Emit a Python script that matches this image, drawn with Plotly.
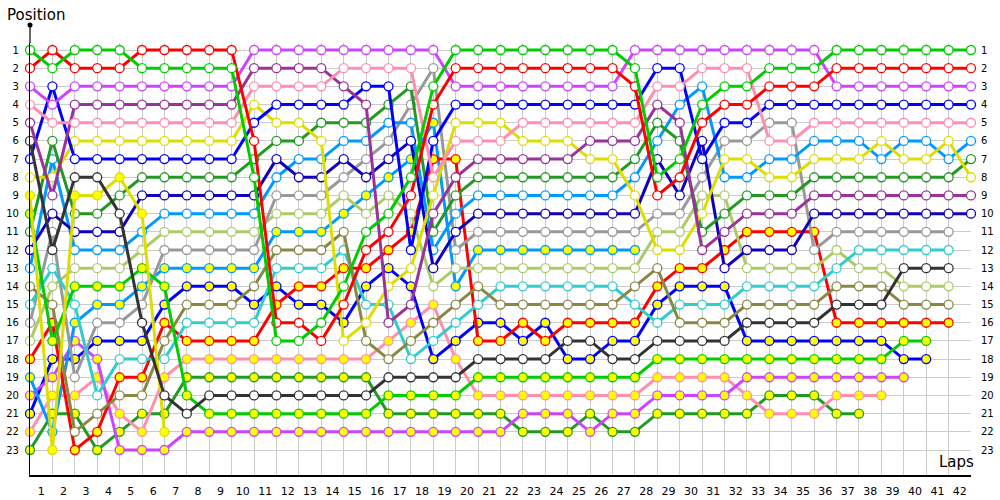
import plotly.graph_objects as go

# ---------------- data ----------------
lap_labels = [str(i) for i in range(1, 43)]
position_labels = [str(i) for i in range(1, 24)]

# running position of every driver at the end of each lap (index 0 = grid)
GW = [1,2,1,1,1,2,2,2,2,2, 8,17,17,16,14,11,10,8,3,1, 1,1,1,1,1,1,1,2,8,7, 4,3,3,2,2,2,1,1,1,1, 1,1,1]
RW = [2,1,2,2,2,1,1,1,1,1, 6,16,16,17,15,12,11,9,4,2, 2,2,2,2,2,2,2,3,9,8, 5,4,4,3,3,3,2,2,2,2, 2,2,2]
PW = [3,4,3,3,3,3,3,3,3,3, 1,1,1,1,1,1,1,1,1,3, 3,3,3,3,3,3,3,1,1,1, 1,1,1,1,1,1,3,3,3,3, 3,3,3]
KW = [4,5,5,5,5,5,5,5,5,5, 3,3,3,3,2,2,2,2,8,6, 6,6,5,5,5,5,5,5,3,3, 2,2,2,6,6,5,5,5,5,5, 5,5,5]
DP = [5,9,4,4,4,4,4,4,4,4, 2,2,2,2,3,4,16,15,10,8, 7,7,7,7,7,6,6,6,4,5, 12,11,10,10,10,9,9,9,9,9, 9,9,9]
DG = [6,12,8,8,10,16,20,21,20,20, 20,20,20,20,20,20,19,19,19,19, 18,18,18,18,17,17,18,18,17,17, 17,17,16,16,16,16,15,15,15,13, 13,13]
BW = [7,3,7,7,7,7,7,7,7,7, 5,4,4,4,4,3,3,12,6,4, 4,4,4,4,4,4,4,4,2,2, 7,5,5,4,4,4,4,4,4,4, 4,4,4]
YW = [8,8,6,6,6,6,6,6,6,6, 4,5,5,6,17,16,14,13,9,5, 5,5,6,6,6,7,7,9,12,12, 10,7,7,8,8,7,7,7,6,7, 7,6,8]
YY = [9,23,9,9,8,10,22]
GY = [10,17,14,14,14,13,14,20,21,21, 21,21,21,21,21,21,20,20,20,20, 19,19,19,19,19,19,19,19,18,18, 18,18,18,18,18,18,18,18,18,17, 17]
NW = [11,6,10,10,9,8,8,8,8,8, 7,6,6,5,5,5,4,3,11,9, 8,8,8,8,8,8,8,7,5,6, 11,10,9,9,9,8,8,8,8,8, 8,8,7]
DB = [12,10,11,11,11,9,9,9,9,9, 9,7,8,8,7,8,7,6,13,11, 10,10,10,10,10,10,10,10,7,9, 6,13,12,12,12,10,10,10,10,10, 10,10,10]
LW = [13,7,12,12,12,11,10,10,10,10, 10,8,7,7,6,6,5,5,12,10, 9,9,9,9,9,9,9,8,6,4, 3,8,8,7,7,6,6,6,7,6, 6,7,6]
OL = [14,15,22,21,20,20,17,15,15,15, 14,12,12,12,11,17,18,17,16,15, 14,15,15,15,15,15,15,14,13,16, 16,16,15,15,15,15,14,14,14,15, 15,15]
CY = [15,13,15,20,18,18,18,16,16,16, 16,13,13,13,12,15,15,18,17,16, 15,14,14,14,14,14,14,15,16,15, 15,15,14,14,14,14,13,12,12,12, 12,12]
GR = [16,11,19,16,16,15,12,12,12,12, 12,9,9,9,8,7,6,4,2,12, 11,11,11,11,11,11,11,11,10,10, 8,6,6,5,5,12,11,11,11,11, 11,11]
LO = [17,14,13,13,13,12,11,11,11,11, 11,10,10,10,9,10,9,10,14,13, 13,13,13,13,13,13,13,13,11,11, 9,9,13,13,13,13,12,13,13,14, 14,14]
RY = [18,16,23,22,19,19,16,17,17,17, 17,15,14,14,13,13,12,11,7,7, 17,17,16,17,16,16,16,16,14,13, 13,12,11,11,11,11,16,16,16,16, 16,16]
LY = [19,22,16,15,15,14,13,13,13,13, 13,11,11,11,10,9,8,7,5,14, 12,12,12,12,12,12,12,12]
PY = [20,19,17,18,23,23,23,22,22,22, 22,22,22,22,22,22,22,22,22,22, 22,22,21,21,21,22,21,21,20,20, 20,20,19,19,19,19,19,19,19,19]
BY = [21,18,18,17,17,17,15,14,14,14, 15,14,15,15,16,14,13,14,18,17, 16,16,17,16,18,18,17,17,15,14, 14,14,17,17,17,17,17,17,17,18, 18]
KY = [22,20,20,19,21,22,19,18,18,18, 18,18,18,18,18,18,17,16,15,18, 20,20,20,20,20,20,20,20,19,19, 19,19,20,21,21,21,20,20,20]
NY = [23,21,21,23,22,21,21,19,19,19, 19,19,19,19,19,19,21,21,21,21, 21,21,22,22,22,21,22,22,21,21, 21,21,21,20,20,20,21,21]

# team colours and marker fills
GREEN, RED, PURPLE, PINK = "#00cc00", "#ff0000", "#cc44ff", "#ff8faf"
DKPURPLE, DKGRAY, BLUE, YELLOW = "#993399", "#333333", "#0000ff", "#dddd00"
DKGREEN, DKBLUE, LTBLUE, OLIVE = "#229922", "#1100bb", "#0099ff", "#888844"
CYAN, GRAY, LTOLIVE = "#33cccc", "#999999", "#aacc66"
WHITE, YFILL = "#ffffff", "#ffff00"

series = [
    (GW, GREEN, WHITE), (RW, RED, WHITE), (PW, PURPLE, WHITE), (KW, PINK, WHITE),
    (DP, DKPURPLE, WHITE), (DG, DKGRAY, WHITE), (BW, BLUE, WHITE), (YW, YELLOW, WHITE),
    (YY, YELLOW, YFILL), (GY, GREEN, YFILL), (NW, DKGREEN, WHITE), (DB, DKBLUE, WHITE),
    (LW, LTBLUE, WHITE), (OL, OLIVE, WHITE), (CY, CYAN, WHITE), (GR, GRAY, WHITE),
    (LO, LTOLIVE, WHITE), (RY, RED, YFILL), (LY, LTBLUE, YFILL), (PY, PURPLE, YFILL),
    (BY, BLUE, YFILL), (KY, PINK, YFILL), (NY, DKGREEN, YFILL),
]

# ---------------- figure ----------------
fig = go.Figure()
for pos, col, fill in reversed(series):
    fig.add_trace(go.Scatter(
        x=list(range(len(pos))), y=pos, mode="lines+markers",
        line=dict(color=col, width=3),
        marker=dict(size=9, color=fill, line=dict(color=col, width=1.3)),
        showlegend=False, hoverinfo="skip", cliponaxis=False,
    ))
# invisible trace for the right-hand position axis
fig.add_trace(go.Scatter(x=[0], y=[1], yaxis="y2", mode="markers",
                         marker=dict(opacity=0), showlegend=False, hoverinfo="skip"))

W, H = 1000, 500
ML, MR, MT, MB = 30, 29, 43, 25
PW_PX = W - ML - MR
plot_h = H - MT - MB
px_per_pos = 400 / 22
y_bottom = 23 + 25 / px_per_pos
y_top = 1 - 7 / px_per_pos

font = "DejaVu Sans"
fig.update_layout(
    width=W, height=H, autosize=False,
    margin=dict(l=ML, r=MR, t=MT, b=MB, pad=0),
    plot_bgcolor="white", paper_bgcolor="white",
    font=dict(family=font, size=10.5, color="black"),
    xaxis=dict(
        range=[0, 42], tickmode="array", automargin=False,
        tickvals=[i + 0.5 for i in range(42)], ticktext=lap_labels,
        showgrid=False, zeroline=False, ticks="",
        showline=True, linecolor="black", linewidth=2,
        ticklabelstandoff=5, tickfont=dict(size=11),
        minor=dict(tickmode="array", tickvals=list(range(43)), showgrid=True,
                   gridcolor="#cccccc", gridwidth=1, ticks=""),
        fixedrange=True,
    ),
    yaxis=dict(
        range=[y_bottom, y_top], tickmode="array", automargin=False,
        tickvals=list(range(1, 24)), ticktext=position_labels,
        showgrid=True, gridcolor="#cccccc", gridwidth=1, zeroline=False,
        ticks="", showline=True, linecolor="black", linewidth=1.2,
        ticklabelstandoff=8, tickfont=dict(size=10), fixedrange=True,
    ),
    yaxis2=dict(
        range=[y_bottom, y_top], overlaying="y", side="right", anchor="x",
        automargin=False,
        tickmode="array", tickvals=list(range(1, 24)), ticktext=position_labels,
        showgrid=False, zeroline=False, ticks="", showline=False,
        ticklabelstandoff=9, tickfont=dict(size=10), fixedrange=True,
    ),
)

# axis extension with dot at top of the vertical axis
ext = 18 / plot_h
fig.add_shape(type="line", xref="paper", yref="paper", x0=0, x1=0, y0=1, y1=1 + ext,
              line=dict(color="black", width=1.2))
fig.add_shape(type="circle", xref="paper", yref="paper",
              x0=-2.5 / PW_PX, x1=2.5 / PW_PX,
              y0=1 + ext - 2.5 / plot_h, y1=1 + ext + 2.5 / plot_h,
              fillcolor="black", line=dict(color="black", width=0))
# arrow at the right end of the lap axis
fig.add_annotation(x=42 + 15 / (PW_PX / 42), y=y_bottom, xref="x", yref="y",
                   ax=-22, ay=0, text="", showarrow=True, arrowhead=2,
                   arrowsize=1.2, arrowwidth=2, arrowcolor="black")
# axis titles
fig.add_annotation(text="Position", xref="paper", yref="paper",
                   x=-25 / PW_PX, y=1 + 39 / plot_h,
                   xanchor="left", yanchor="top", showarrow=False,
                   font=dict(family=font, size=15, color="black"))
fig.add_annotation(text="Laps", xref="paper", yref="paper",
                   x=1 + 5 / PW_PX, y=2 / plot_h,
                   xanchor="right", yanchor="bottom", showarrow=False,
                   font=dict(family=font, size=15, color="black"))

# remove the browser's default page margin so the figure fills the window
fig.write_html("out.html", config={"displayModeBar": False},
               post_script="document.body.style.margin='0px';")
